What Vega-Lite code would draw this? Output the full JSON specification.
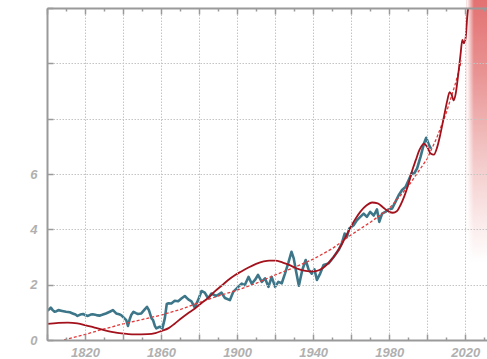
{
  "$schema": "https://vega.github.io/schema/vega-lite/v6.json",
  "autosize": {"type": "none"},
  "padding": {"left": 47, "top": 8, "right": 0, "bottom": 19},
  "width": 441,
  "height": 332,
  "background": "white",
  "config": {
    "view": {"stroke": null},
    "axis": {
      "domainColor": "#9a9a9a",
      "domainWidth": 2,
      "tickColor": "#9a9a9a",
      "tickWidth": 1.5,
      "gridColor": "#c4c4c4",
      "gridDash": [1.5, 1.5],
      "gridWidth": 1,
      "labelColor": "#b0b0b0",
      "labelFont": "Liberation Sans",
      "labelFontSize": 13,
      "labelFontStyle": "italic",
      "labelFontWeight": "bold",
      "title": null
    }
  },
  "datasets": {
    "observed": [
      {"year": 1800, "value": 1.05}, {"year": 1801, "value": 1.10}, {"year": 1802, "value": 1.17},
      {"year": 1803, "value": 1.08}, {"year": 1804, "value": 1.02}, {"year": 1805, "value": 1.04},
      {"year": 1806, "value": 1.08}, {"year": 1808, "value": 1.05}, {"year": 1810, "value": 1.02},
      {"year": 1812, "value": 1.00}, {"year": 1813.5, "value": 0.96}, {"year": 1815, "value": 0.92},
      {"year": 1816, "value": 0.87}, {"year": 1817.5, "value": 0.92}, {"year": 1819, "value": 0.94},
      {"year": 1820, "value": 0.90}, {"year": 1821.5, "value": 0.87}, {"year": 1823, "value": 0.92},
      {"year": 1824, "value": 0.93}, {"year": 1826, "value": 0.90}, {"year": 1827.6, "value": 0.88},
      {"year": 1829, "value": 0.91}, {"year": 1831, "value": 0.96}, {"year": 1833, "value": 1.02},
      {"year": 1834.7, "value": 1.08}, {"year": 1836.4, "value": 0.96}, {"year": 1838, "value": 0.93},
      {"year": 1839, "value": 0.90}, {"year": 1840.5, "value": 0.80}, {"year": 1841.7, "value": 0.72},
      {"year": 1842.6, "value": 0.51}, {"year": 1843.5, "value": 0.75}, {"year": 1844.3, "value": 0.90},
      {"year": 1845.5, "value": 1.02}, {"year": 1846.8, "value": 0.97}, {"year": 1847.8, "value": 0.94},
      {"year": 1849.6, "value": 0.96}, {"year": 1851.3, "value": 1.10}, {"year": 1852.6, "value": 1.20},
      {"year": 1853.6, "value": 1.08}, {"year": 1855, "value": 0.78}, {"year": 1855.8, "value": 0.72},
      {"year": 1856.8, "value": 0.50}, {"year": 1857.5, "value": 0.42}, {"year": 1859.3, "value": 0.48},
      {"year": 1860.7, "value": 0.42}, {"year": 1862, "value": 0.79}, {"year": 1863, "value": 1.30},
      {"year": 1864, "value": 1.33}, {"year": 1865.4, "value": 1.32}, {"year": 1867.2, "value": 1.42},
      {"year": 1869, "value": 1.40}, {"year": 1870.7, "value": 1.50}, {"year": 1872.5, "value": 1.59},
      {"year": 1874.3, "value": 1.47}, {"year": 1876, "value": 1.40}, {"year": 1877.7, "value": 1.18},
      {"year": 1879.5, "value": 1.44}, {"year": 1881.3, "value": 1.77}, {"year": 1883, "value": 1.71},
      {"year": 1884.8, "value": 1.50}, {"year": 1886.5, "value": 1.68}, {"year": 1889, "value": 1.59},
      {"year": 1891.8, "value": 1.71}, {"year": 1893.6, "value": 1.52}, {"year": 1896.2, "value": 1.44},
      {"year": 1898, "value": 1.74}, {"year": 1900.6, "value": 1.92}, {"year": 1902.4, "value": 2.04},
      {"year": 1904, "value": 1.98}, {"year": 1906, "value": 2.28}, {"year": 1907.7, "value": 2.04},
      {"year": 1909.4, "value": 2.17}, {"year": 1911, "value": 2.35}, {"year": 1913, "value": 2.10},
      {"year": 1914.7, "value": 2.23}, {"year": 1916.5, "value": 1.92}, {"year": 1918.2, "value": 2.28},
      {"year": 1920, "value": 1.92}, {"year": 1921.7, "value": 2.10}, {"year": 1923.5, "value": 2.05},
      {"year": 1925.2, "value": 2.40}, {"year": 1927, "value": 2.80}, {"year": 1928.6, "value": 3.19},
      {"year": 1929.8, "value": 2.95}, {"year": 1930.9, "value": 2.53}, {"year": 1932.5, "value": 1.96},
      {"year": 1934.3, "value": 2.53}, {"year": 1936.1, "value": 2.89}, {"year": 1937.6, "value": 2.55},
      {"year": 1939.3, "value": 2.40}, {"year": 1940.7, "value": 2.55}, {"year": 1942, "value": 2.17},
      {"year": 1943.7, "value": 2.40}, {"year": 1945.5, "value": 2.71}, {"year": 1948.1, "value": 2.77},
      {"year": 1950.8, "value": 3.00}, {"year": 1953.4, "value": 3.25}, {"year": 1955.1, "value": 3.49},
      {"year": 1956.6, "value": 3.85}, {"year": 1957.8, "value": 3.73}, {"year": 1959, "value": 4.03},
      {"year": 1961.3, "value": 4.15}, {"year": 1963, "value": 4.33}, {"year": 1964.8, "value": 4.45},
      {"year": 1966.6, "value": 4.57}, {"year": 1968.3, "value": 4.45}, {"year": 1970, "value": 4.63},
      {"year": 1971.9, "value": 4.50}, {"year": 1973.6, "value": 4.72}, {"year": 1974.8, "value": 4.27},
      {"year": 1976.3, "value": 4.57}, {"year": 1978, "value": 4.63}, {"year": 1979.8, "value": 4.72},
      {"year": 1981.5, "value": 4.75}, {"year": 1983.3, "value": 4.99}, {"year": 1985, "value": 5.23},
      {"year": 1986.8, "value": 5.42}, {"year": 1988.6, "value": 5.53}, {"year": 1990.4, "value": 5.80},
      {"year": 1992, "value": 6.05}, {"year": 1993, "value": 6.00}, {"year": 1994.7, "value": 6.20},
      {"year": 1996.5, "value": 6.62}, {"year": 1998.3, "value": 7.10}, {"year": 1999.5, "value": 7.31},
      {"year": 2001, "value": 7.04}, {"year": 2002, "value": 6.92}
    ],
    "smooth": [
      {"year": 1800, "value": 0.58}, {"year": 1806, "value": 0.62}, {"year": 1811, "value": 0.63},
      {"year": 1816, "value": 0.60}, {"year": 1820, "value": 0.54}, {"year": 1825, "value": 0.45},
      {"year": 1830, "value": 0.36}, {"year": 1837, "value": 0.26}, {"year": 1842, "value": 0.22},
      {"year": 1846, "value": 0.20}, {"year": 1853, "value": 0.21}, {"year": 1857, "value": 0.25},
      {"year": 1860, "value": 0.32}, {"year": 1864, "value": 0.43}, {"year": 1867, "value": 0.58},
      {"year": 1870, "value": 0.75}, {"year": 1874, "value": 0.96}, {"year": 1878, "value": 1.15},
      {"year": 1881, "value": 1.32}, {"year": 1885, "value": 1.54}, {"year": 1888, "value": 1.74},
      {"year": 1892, "value": 1.97}, {"year": 1895, "value": 2.15}, {"year": 1899, "value": 2.35},
      {"year": 1902, "value": 2.47}, {"year": 1906, "value": 2.62}, {"year": 1910, "value": 2.75},
      {"year": 1914, "value": 2.84}, {"year": 1917, "value": 2.87}, {"year": 1920, "value": 2.87},
      {"year": 1924, "value": 2.80}, {"year": 1928, "value": 2.70}, {"year": 1932, "value": 2.57},
      {"year": 1936, "value": 2.50}, {"year": 1940, "value": 2.48}, {"year": 1943, "value": 2.52},
      {"year": 1946, "value": 2.65}, {"year": 1949, "value": 2.85}, {"year": 1952, "value": 3.12},
      {"year": 1955, "value": 3.45}, {"year": 1958, "value": 3.85}, {"year": 1962, "value": 4.35},
      {"year": 1965, "value": 4.65}, {"year": 1968, "value": 4.86}, {"year": 1971, "value": 4.97},
      {"year": 1974, "value": 4.94}, {"year": 1977, "value": 4.78}, {"year": 1980, "value": 4.63},
      {"year": 1982, "value": 4.60}, {"year": 1984, "value": 4.65}, {"year": 1986, "value": 4.88},
      {"year": 1988, "value": 5.20}, {"year": 1990, "value": 5.60}, {"year": 1992, "value": 6.10},
      {"year": 1994, "value": 6.50}, {"year": 1996, "value": 6.88}, {"year": 1998.3, "value": 7.10},
      {"year": 2000, "value": 6.98}, {"year": 2001.8, "value": 6.74}, {"year": 2003.5, "value": 6.70},
      {"year": 2005.3, "value": 6.98}, {"year": 2007, "value": 7.46}, {"year": 2008.8, "value": 8.06},
      {"year": 2010.6, "value": 8.66}, {"year": 2011.8, "value": 8.96}, {"year": 2012.8, "value": 8.88},
      {"year": 2014, "value": 8.66}, {"year": 2015, "value": 8.90}, {"year": 2016.4, "value": 9.63},
      {"year": 2017.6, "value": 10.35}, {"year": 2018.5, "value": 10.85}, {"year": 2019.3, "value": 10.72},
      {"year": 2020.2, "value": 10.90}, {"year": 2021.1, "value": 11.70}, {"year": 2022, "value": 12.30},
      {"year": 2022.6, "value": 12.80}
    ],
    "trend": [
      {"year": 1809, "value": 0.0}, {"year": 1820, "value": 0.2}, {"year": 1830, "value": 0.4},
      {"year": 1840, "value": 0.58}, {"year": 1850, "value": 0.74}, {"year": 1860, "value": 0.9},
      {"year": 1870, "value": 1.1}, {"year": 1880, "value": 1.35}, {"year": 1890, "value": 1.59},
      {"year": 1900, "value": 1.8}, {"year": 1910, "value": 2.05}, {"year": 1920, "value": 2.35},
      {"year": 1930, "value": 2.62}, {"year": 1940, "value": 2.92}, {"year": 1950, "value": 3.3},
      {"year": 1960, "value": 3.8}, {"year": 1970, "value": 4.25}, {"year": 1980, "value": 4.75},
      {"year": 1990, "value": 5.55}, {"year": 2000, "value": 6.55}, {"year": 2005, "value": 7.3},
      {"year": 2010, "value": 8.2}, {"year": 2015, "value": 9.3}, {"year": 2018, "value": 10.1}
    ]
  },
  "layer": [
    {
      "description": "reddish haze over the most recent years",
      "data": {"values": [{"from": 2020.8, "to": 2034, "low": 2.8, "high": 12.5}]},
      "mark": {
        "type": "rect",
        "fill": {
          "gradient": "linear", "x1": 0, "y1": 0, "x2": 0, "y2": 1,
          "stops": [
            {"offset": 0, "color": "#e36f6f"},
            {"offset": 0.3, "color": "#e99494"},
            {"offset": 0.6, "color": "#f3c6c6"},
            {"offset": 0.85, "color": "#fbeaea"},
            {"offset": 1, "color": "#ffffff"}
          ]
        }
      },
      "encoding": {
        "x": {"field": "from", "type": "quantitative", "scale": {"domain": [1800, 2032], "nice": false, "zero": false},
          "axis": {
            "orient": "bottom",
            "values": [1800, 1810, 1820, 1830, 1840, 1850, 1860, 1870, 1880, 1890, 1900, 1910, 1920, 1930, 1940, 1950, 1960, 1970, 1980, 1990, 2000, 2010, 2020, 2030],
            "format": "d",
            "labelExpr": "datum.value % 40 === 20 ? datum.label : ''",
            "grid": true,
            "gridOpacity": {"condition": {"test": "datum.value % 20 === 0", "value": 1}, "value": 0},
            "tickSize": {"condition": {"test": "datum.value % 20 === 0", "value": -6}, "value": -3},
            "labelPadding": 12,
            "zindex": 1
          }},
        "x2": {"field": "to"},
        "y": {"field": "low", "type": "quantitative", "scale": {"domain": [0, 12], "nice": false, "zero": false},
          "axis": {
            "orient": "left",
            "values": [0, 1, 2, 3, 4, 5, 6, 7, 8, 9, 10, 11, 12],
            "labelExpr": "datum.value % 2 === 0 && datum.value <= 6 ? datum.label : ''",
            "grid": true,
            "gridOpacity": {"condition": {"test": "datum.value % 2 === 0", "value": 1}, "value": 0},
            "tickSize": {"condition": {"test": "datum.value % 2 === 0", "value": -6}, "value": -3},
            "labelPadding": 16,
            "zindex": 1
          }},
        "y2": {"field": "high"}
      }
    },
    {
      "description": "soft left edge of the haze",
      "data": {"values": [{"from": 2020.8, "to": 2024.6, "low": 2.8, "high": 12.5}]},
      "mark": {
        "type": "rect",
        "fill": {
          "gradient": "linear", "x1": 0, "y1": 0, "x2": 1, "y2": 0,
          "stops": [
            {"offset": 0, "color": "rgba(255,255,255,1)"},
            {"offset": 1, "color": "rgba(255,255,255,0)"}
          ]
        }
      },
      "encoding": {
        "x": {"field": "from", "type": "quantitative", "axis": null},
        "x2": {"field": "to"},
        "y": {"field": "low", "type": "quantitative"},
        "y2": {"field": "high"}
      }
    },
    {
      "data": {"name": "observed"},
      "mark": {"type": "line", "color": "#3d7689", "strokeWidth": 2.6, "strokeJoin": "round", "clip": true},
      "encoding": {
        "x": {"field": "year", "type": "quantitative", "axis": null},
        "y": {"field": "value", "type": "quantitative"}
      }
    },
    {
      "data": {"name": "trend"},
      "mark": {"type": "line", "color": "#e23a3a", "strokeWidth": 1.3, "strokeDash": [3, 2], "clip": true},
      "encoding": {
        "x": {"field": "year", "type": "quantitative", "axis": null},
        "y": {"field": "value", "type": "quantitative"}
      }
    },
    {
      "data": {"name": "smooth"},
      "mark": {"type": "line", "color": "#a3121c", "strokeWidth": 1.8, "interpolate": "monotone", "clip": true},
      "encoding": {
        "x": {"field": "year", "type": "quantitative",
          "axis": {
            "orient": "top",
            "values": [1800, 1810, 1820, 1830, 1840, 1850, 1860, 1870, 1880, 1890, 1900, 1910, 1920, 1930, 1940, 1950, 1960, 1970, 1980, 1990, 2000, 2010, 2020, 2030],
            "labels": false,
            "grid": false,
            "tickSize": {"condition": {"test": "datum.value % 20 === 0", "value": -6}, "value": -3},
            "zindex": 1
          }},
        "y": {"field": "value", "type": "quantitative"}
      }
    }
  ],
  "resolve": {"axis": {"x": "independent"}}
}
